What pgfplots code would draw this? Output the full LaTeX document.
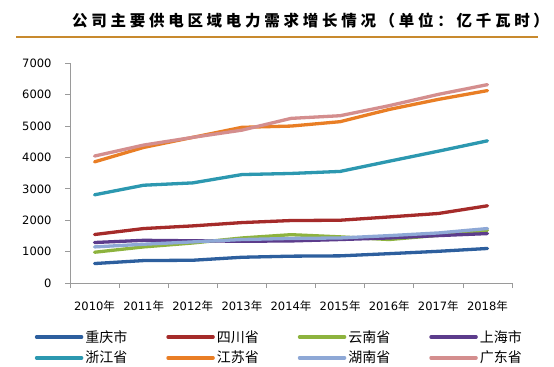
\documentclass[border=0pt]{standalone}
\usepackage{fontspec}
\setmainfont{DejaVu Sans}
\newfontfamily\cjk{Noto Sans CJK SC}
\newfontfamily\cjktitle[LetterSpace=24]{Noto Sans CJK SC}
\usepackage{pgfplots}
\pgfplotsset{compat=1.18}
\definecolor{cq}{HTML}{2D5F9E}
\definecolor{sc}{HTML}{A52B2A}
\definecolor{yn}{HTML}{8DB33E}
\definecolor{sh}{HTML}{5C3C8C}
\definecolor{zj}{HTML}{2C98B0}
\definecolor{js}{HTML}{E97E25}
\definecolor{hn}{HTML}{8EA8D6}
\definecolor{gd}{HTML}{D48E8E}
\definecolor{axisgray}{HTML}{9A9A9A}
\definecolor{titleline}{HTML}{C88A2E}
\begin{document}
\begin{tikzpicture}[x=1bp,y=1bp]
\path[use as bounding box, fill=white] (0,0) rectangle (554,366);
\node[anchor=west, font=\cjktitle\bfseries\fontsize{15.5bp}{18bp}\selectfont, inner sep=0] at (72,345) {公司主要供电区域电力需求增长情况（单位：亿千瓦时）};
\draw[color=titleline, line width=2bp] (16,329) -- (538,329);
\begin{axis}[
  at={(70bp,83bp)}, anchor=south west, scale only axis,
  width=442bp, height=219.7bp,
  xmin=-0.5, xmax=8.5, ymin=0, ymax=7000,
  axis x line=bottom, axis y line=left,
  axis line style={draw=axisgray, line width=1bp, -},
  xtick={-0.5,0.5,...,8.5}, x tick label as interval,
  xticklabels={2010{\cjk 年},2011{\cjk 年},2012{\cjk 年},2013{\cjk 年},2014{\cjk 年},2015{\cjk 年},2016{\cjk 年},2017{\cjk 年},2018{\cjk 年}},
  ytick={0,1000,...,7000},
  tick align=outside, tick style={draw=axisgray, line width=0.8bp}, major tick length=5bp,
  tick label style={font=\fontsize{11.5bp}{13bp}\selectfont},
  xticklabel style={yshift=-9bp},
  yticklabel style={xshift=-10bp, /pgf/number format/1000 sep={}},
  /pgf/number format/assume math mode=true,
  scaled y ticks=false,
  every axis plot/.append style={line width=3.3bp, line join=round, line cap=round, no markers},
  legend columns=4,
  legend style={draw=none, fill=none, font=\cjk\fontsize{14bp}{15bp}\selectfont,
    at={(-0.08,-0.205)}, anchor=north west, inner sep=0pt, row sep=3.5bp,
    /tikz/every even column/.append style={column sep=37bp}},
  legend image code/.code={\draw[#1, line width=3.5bp, line cap=round] (0bp,0bp) -- (45bp,0bp);},
]
\addplot[cq] coordinates {(0,620) (1,715) (2,725) (3,820) (4,855) (5,865) (6,935) (7,1010) (8,1100)};
\addlegendentry{重庆市}
\addplot[sc] coordinates {(0,1545) (1,1735) (2,1820) (3,1925) (4,1990) (5,2000) (6,2105) (7,2215) (8,2460)};
\addlegendentry{四川省}
\addplot[yn] coordinates {(0,980) (1,1150) (2,1275) (3,1435) (4,1540) (5,1470) (6,1385) (7,1520) (8,1680)};
\addlegendentry{云南省}
\addplot[sh] coordinates {(0,1290) (1,1360) (2,1345) (3,1330) (4,1340) (5,1385) (6,1435) (7,1510) (8,1575)};
\addlegendentry{上海市}
\addplot[zj] coordinates {(0,2810) (1,3115) (2,3190) (3,3455) (4,3490) (5,3555) (6,3880) (7,4200) (8,4530)};
\addlegendentry{浙江省}
\addplot[js] coordinates {(0,3860) (1,4320) (2,4640) (3,4960) (4,5000) (5,5140) (6,5530) (7,5850) (8,6130)};
\addlegendentry{江苏省}
\addplot[hn] coordinates {(0,1150) (1,1235) (2,1310) (3,1385) (4,1420) (5,1435) (6,1510) (7,1595) (8,1735)};
\addlegendentry{湖南省}
\addplot[gd] coordinates {(0,4045) (1,4395) (2,4640) (3,4870) (4,5245) (5,5330) (6,5650) (7,6010) (8,6320)};
\addlegendentry{广东省}
\end{axis}
\end{tikzpicture}
\end{document}
